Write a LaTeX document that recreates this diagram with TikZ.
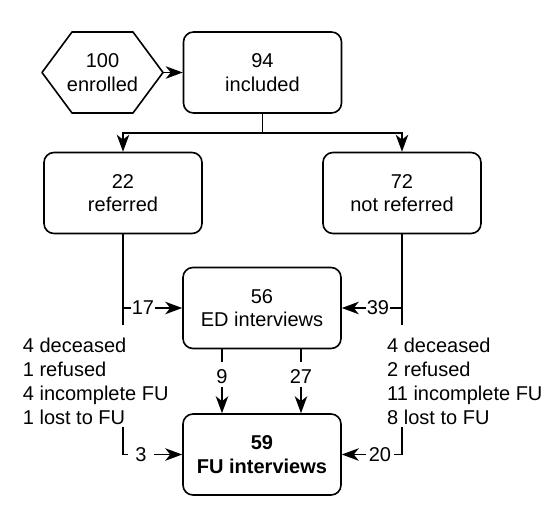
\documentclass[tikz,border=0pt]{standalone}
\usepackage{fontspec}
\setmainfont{Liberation Sans}
\usetikzlibrary{arrows.meta}
\begin{document}
\begin{tikzpicture}[x=1pt,y=-1pt,
  every node/.style={font=\fontsize{20}{23.5}\selectfont},
  box/.style={draw, rounded corners=10pt, minimum width=158pt, minimum height=81pt,
    align=center, line width=1.6pt, inner sep=0pt},
  lbl/.style={inner sep=1pt},
  conn/.style={line width=1.6pt},
  arr/.style={conn, -{Stealth[length=17pt,width=12.5pt,inset=5pt]}},
  info/.style={align=left, anchor=north west, inner sep=0pt,
    font=\fontsize{20}{24}\selectfont}]
\useasboundingbox (0,0) rectangle (550,520);

% enrolled hexagon
\draw[line width=1.6pt, line join=round] (42,72.5) -- (72,32) -- (133,32) -- (163,72.5) -- (133,113) -- (72,113) -- cycle;
\node[align=center] (enr) at (102.5,72.5) {100\\enrolled};
\coordinate (enrE) at (163,72.5);

\node[box] (inc)  at (262.5,72.5) {94\\included};
\node[box] (ref)  at (123,193)   {22\\referred};
\node[box] (nref) at (402,193)   {72\\not referred};
\node[box] (ed)   at (262,308)   {56\\ED interviews};
\node[box] (fu)   at (262,454.5) {\bfseries 59\\\bfseries FU interviews};

\draw[arr] (enrE) -- (inc.west);

\coordinate (jt) at (262.5,133);
\draw[conn] (inc.south) -- (jt);
\draw[arr] (jt) -| (ref.north);
\draw[arr] (jt) -| (nref.north);

% left side
\coordinate (lend) at (123,325);
\coordinate (lb) at (123,308);
\draw[conn] (ref.south) -- (lend);
\node[lbl] (n17) at (143,308) {17};
\draw[conn] (lb) -- (n17.west);
\draw[arr] (n17.east) -- (ed.west);

% right side
\coordinate (rend) at (402,325);
\coordinate (rb) at (402,308);
\draw[conn] (nref.south) -- (rend);
\node[lbl] (n39) at (378,308) {39};
\draw[conn] (rb) -- (n39.east);
\draw[arr] (n39.west) -- (ed.east);

% ED -> FU
\node[inner xsep=0pt, inner ysep=3pt] (n9)  at (222,377) {9};
\node[inner xsep=0pt, inner ysep=3pt] (n27) at (301,377) {27};
\draw[conn, shorten >=5pt] (ed.south -| n9) -- (n9.north);
\draw[arr] (n9.south) -- (fu.north -| n9);
\draw[conn, shorten >=5pt] (ed.south -| n27) -- (n27.north);
\draw[arr] (n27.south) -- (fu.north -| n27);

% exclusions
\node[info] (lx) at (22.7,338) {4 deceased\\1 refused\\4 incomplete FU\\1 lost to FU};
\node[info] (rx) at (387,338) {4 deceased\\2 refused\\11 incomplete FU\\8 lost to FU};

% lower left
\coordinate (lstart) at (123,426.5);
\node[inner xsep=7.5pt, inner ysep=1pt] (n3) at (141,454.5) {3};
\draw[conn] (lstart) |- (n3.west);
\draw[arr] (n3.east) -- (fu.west);

% lower right
\coordinate (rstart) at (402,426.5);
\node[inner xsep=3pt, inner ysep=1pt] (n20) at (380,454.5) {20};
\draw[conn] (rstart) |- (n20.east);
\draw[arr] (n20.west) -- (fu.east);
\end{tikzpicture}
\end{document}
